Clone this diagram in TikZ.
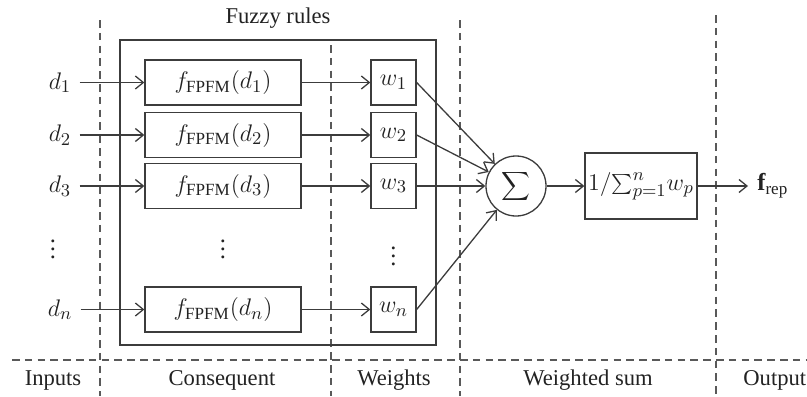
\documentclass[tikz,border=0pt]{standalone}
\usepackage{fontspec}
\setmainfont{Liberation Serif}
\usetikzlibrary{arrows.meta}
\definecolor{linec}{HTML}{3C3C3C}
\definecolor{textc}{HTML}{222222}
\begin{document}
\begin{tikzpicture}[x=0.5pt,y=-0.5pt,
  font=\fontsize{11.3}{13}\selectfont, text=textc,
  mfont/.style={font=\fontsize{12.2}{14}\selectfont},
  ln/.style={draw=linec, line width=0.65pt},
  arr/.style={ln, -{Straight Barb[length=4pt,width=6.5pt,line width=0.65pt]}},
  dashln/.style={draw=linec!85, line width=0.65pt, dash pattern=on 3.8pt off 2.6pt},
  fbox/.style={ln, mfont, minimum width=78pt, minimum height=22.5pt, inner sep=0pt},
  wbox/.style={ln, mfont, minimum width=22.5pt, minimum height=22.5pt, inner sep=0pt},
  sumc/.style={ln, circle, minimum size=30pt, inner sep=0pt, font=\fontsize{13.5}{15}\selectfont},
  normbox/.style={ln, mfont, minimum width=56pt, minimum height=33pt, inner sep=0pt},
  lbl/.style={inner sep=0pt},
  mlbl/.style={inner sep=0pt, mfont}]
\useasboundingbox (0,0) rectangle (807,396);

% dashed separators
\draw[dashln] (100,20) -- (100,396);
\draw[dashln] (331,45) -- (331,396);
\draw[dashln] (460,20) -- (460,396);
\draw[dashln] (716,15) -- (716,396);
\draw[dashln] (12,360) -- (807,360);

% outer box
\draw[ln] (120,40) rectangle (436,345);
\node[lbl] (title) at (278,18) {Fuzzy rules};

% inputs
\node[mlbl] (d1) at (60,82.5) {$d_1$};
\node[mlbl] (d2) at (60,135) {$d_2$};
\node[mlbl] (d3) at (60,186) {$d_3$};
\node[mlbl] (ddots) at (53,243) {$\vdots$};
\node[mlbl] (dn) at (60,309.5) {$d_n$};

% consequent boxes
\node[fbox] (f1) at (223,82.5) {$f_{\mathrm{FPFM}}(d_1)$};
\node[fbox] (f2) at (223,135) {$f_{\mathrm{FPFM}}(d_2)$};
\node[fbox] (f3) at (223,186) {$f_{\mathrm{FPFM}}(d_3)$};
\node[mlbl] (fdots) at (223,243) {$\vdots$};
\node[fbox] (fn) at (223,309.5) {$f_{\mathrm{FPFM}}(d_n)$};

% weights
\node[wbox] (w1) at (393.5,82.5) {$w_1$};
\node[wbox] (w2) at (393.5,135) {$w_2$};
\node[wbox] (w3) at (393.5,186) {$w_3$};
\node[mlbl] (wdots) at (393.5,250) {$\vdots$};
\node[wbox] (wn) at (393.5,309.5) {$w_n$};

% sum and normalization
\node[sumc] (sum) at (516,186) {$\displaystyle\sum$};
\node[normbox] (norm) at (641,186) {$1/{\textstyle\sum}_{p=1}^{n} w_p$};
\node[mlbl, anchor=west, inner xsep=4.5pt] (frep) at (748,186) {$\mathbf{f}_{\mathrm{rep}}$};

% connectors
\foreach \i in {1,2,3,n}{
  \draw[arr] (d\i.east) ++(4pt,0) -- (f\i.west);
  \draw[arr] (f\i) -- (w\i);
  \draw[arr] (w\i.east) -- (sum);
}
\draw[arr] (sum) -- (norm);
\draw[arr] (norm) -- (frep);

% column labels
\node[lbl] (linputs) at (53,380) {Inputs};
\node[lbl] (lcons) at (222,380) {Consequent};
\node[lbl] (lweights) at (394,380) {Weights};
\node[lbl] (lwsum) at (588,380) {Weighted sum};
\node[lbl, anchor=west] (lout) at (743,380) {Output};
\end{tikzpicture}
\end{document}
